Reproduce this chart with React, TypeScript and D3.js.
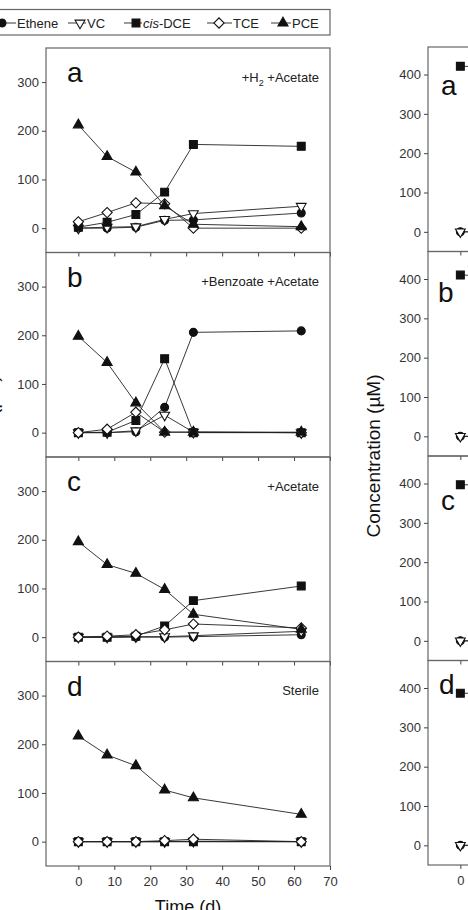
import { useEffect, useRef } from "react";
import * as d3 from "d3";

// Sampling days, shared by every treatment
const days = [0, 8, 16, 24, 32, 62];
const xTicks = [0, 10, 20, 30, 40, 50, 60, 70];
const yTicksLeft = [0, 100, 200, 300];
const yTicksRight = [0, 100, 200, 300, 400];

const compounds = ["Ethene", "VC", "cis-DCE", "TCE", "PCE"];
const panelTags = ["a", "b", "c", "d"];
const panelNotes = ["+H2 +Acetate", "+Benzoate +Acetate", "+Acetate", "Sterile"];

// (a) +H2 +Acetate
const etheneA = [0, 0, 2, 16, 17, 31];
const vcA = [0, 2, 3, 18, 30, 45];
const dceA = [2, 12, 28, 74, 172, 168];
const tceA = [13, 32, 52, 50, 0, 0];
const pceA = [212, 147, 115, 46, 8, 3];

// (b) +Benzoate +Acetate
const etheneB = [0, 0, 2, 52, 206, 209];
const vcB = [0, 0, 4, 36, 1, 0];
const dceB = [0, 1, 25, 152, 0, 0];
const tceB = [0, 7, 42, 1, 1, 0];
const pceB = [198, 144, 61, 1, 1, 1];

// (c) +Acetate
const etheneC = [0, 0, 0, 0, 1, 5];
const vcC = [0, 0, 1, 1, 3, 12];
const dceC = [0, 0, 2, 23, 75, 105];
const tceC = [0, 2, 5, 15, 27, 19];
const pceC = [196, 149, 131, 98, 47, 16];

// (d) Sterile
const etheneD = [0, 0, 0, 0, 0, 0];
const vcD = [0, 0, 0, 0, 1, 0];
const dceD = [0, 0, 0, 0, 0, 0];
const tceD = [0, 0, 0, 2, 5, 0];
const pceD = [217, 178, 156, 106, 90, 56];

// second set of microcosms (only its first samples fit in the frame)
const rightDays = [0, 8];
const rightCompounds = ["Ethene", "VC", "cis-DCE"];
const rightEthene = [0, 0];
const rightVc = [0, 0];
const rightDceA = [421, 420];
const rightDceB = [410, 409];
const rightDceC = [397, 396];
const rightDceD = [387, 386];

const FONT = "'Liberation Sans', Arial, Helvetica, sans-serif";

type Marker = { type: d3.SymbolType; size: number; fill: string; rotate: number };

const markers: Record<string, Marker> = {
  Ethene: { type: d3.symbolCircle, size: 50, fill: "#111", rotate: 0 },
  VC: { type: d3.symbolTriangle, size: 42, fill: "#fff", rotate: 180 },
  "cis-DCE": { type: d3.symbolSquare, size: 62, fill: "#111", rotate: 0 },
  TCE: { type: d3.symbolSquare, size: 52, fill: "#fff", rotate: 45 },
  PCE: { type: d3.symbolTriangle, size: 44, fill: "#111", rotate: 0 },
};

type FigureConfig = {
  left: number;
  top: number;
  yDomain: [number, number];
  yTicks: number[];
  names: string[];
  panels: number[][][];
  days: number[];
  tagDx: number[];
  tagDy: number[];
  notes: string[];
};

const PANEL_W = 284;
const PANEL_H = 204.5;

function drawMarker(g: any, name: string, cx: number, cy: number) {
  const m = markers[name];
  g.append("path")
    .attr("d", d3.symbol().type(m.type).size(m.size)())
    .attr("transform", `translate(${cx},${cy}) rotate(${m.rotate})`)
    .attr("fill", m.fill)
    .attr("stroke", "#111")
    .attr("stroke-width", 1.1);
}

function drawFigure(svg: any, cfg: FigureConfig) {
  const right = cfg.left + PANEL_W;
  const x = d3.scaleLinear().domain([-9, 70]).range([cfg.left, right]);

  cfg.panels.forEach((series, i) => {
    const top = cfg.top + i * PANEL_H;
    const bottom = top + PANEL_H;
    const y = d3.scaleLinear().domain(cfg.yDomain).range([bottom, top]);
    const g = svg.append("g");
    const last = i === cfg.panels.length - 1;

    // frame
    g.append("rect")
      .attr("x", cfg.left)
      .attr("y", top)
      .attr("width", PANEL_W)
      .attr("height", PANEL_H)
      .attr("fill", "none")
      .attr("stroke", "#666")
      .attr("stroke-width", 1.2);

    // y axis
    const yAxis = g
      .append("g")
      .attr("transform", `translate(${cfg.left},0)`)
      .call(d3.axisLeft(y).tickValues(cfg.yTicks).tickSize(4).tickPadding(3));
    yAxis.select(".domain").remove();

    // x axis, labelled only on the bottom panel
    const xAxis = g
      .append("g")
      .attr("transform", `translate(0,${bottom})`)
      .call(
        d3
          .axisBottom(x)
          .tickValues(xTicks)
          .tickSize(4)
          .tickPadding(7)
          .tickFormat((d: any) => (last ? String(d) : ""))
      );
    xAxis.select(".domain").remove();

    [yAxis, xAxis].forEach((ax) => {
      ax.attr("font-family", FONT).attr("font-size", 13);
      ax.selectAll("line").attr("stroke", "#444");
      ax.selectAll("text").attr("fill", "#333");
    });

    // lines first, then symbols on top
    series.forEach((values) => {
      const line = d3
        .line<number>()
        .x((_, j) => x(cfg.days[j]))
        .y((v) => y(v));
      g.append("path")
        .datum(values)
        .attr("fill", "none")
        .attr("stroke", "#222")
        .attr("stroke-width", 0.9)
        .attr("d", line);
    });
    series.forEach((values, k) => {
      values.forEach((v, j) => drawMarker(g, cfg.names[k], x(cfg.days[j]), y(v)));
    });

    // panel letter
    g.append("text")
      .attr("x", cfg.left + cfg.tagDx[i])
      .attr("y", top + cfg.tagDy[i])
      .attr("font-family", FONT)
      .attr("font-size", 28)
      .attr("fill", "#111")
      .text(panelTags[i]);

    // treatment note, digits as subscripts
    const note = cfg.notes[i];
    if (note) {
      const t = g
        .append("text")
        .attr("x", right - 11)
        .attr("y", top + 33.5)
        .attr("text-anchor", "end")
        .attr("font-family", FONT)
        .attr("font-size", 13)
        .attr("fill", "#222");
      let shift = 0;
      note.split(/(\d)/).forEach((part) => {
        if (!part) return;
        const sub = /\d/.test(part);
        t.append("tspan")
          .attr("dy", sub ? 4 - shift : -shift)
          .attr("font-size", sub ? 9 : 13)
          .text(part);
        shift = sub ? 4 : 0;
      });
    }
  });

  const figBottom = cfg.top + cfg.panels.length * PANEL_H;

  svg.append("text")
    .attr("x", (cfg.left + right) / 2)
    .attr("y", figBottom + 47)
    .attr("text-anchor", "middle")
    .attr("font-family", FONT)
    .attr("font-size", 18)
    .attr("fill", "#111")
    .text("Time (d)");

  svg.append("text")
    .attr("transform", `translate(${cfg.left - 48},${(cfg.top + figBottom) / 2}) rotate(-90)`)
    .attr("text-anchor", "middle")
    .attr("font-family", FONT)
    .attr("font-size", 19)
    .attr("fill", "#111")
    .text("Concentration (\u00b5M)");
}

export default function App() {
  const svgRef = useRef<SVGSVGElement>(null);

  useEffect(() => {
    const svg = d3.select(svgRef.current);
    svg.selectAll("*").remove();

    // Legend
    const legend = svg.append("g");
    legend
      .append("rect")
      .attr("x", -20)
      .attr("y", 9.5)
      .attr("width", 350)
      .attr("height", 25.5)
      .attr("fill", "#fff")
      .attr("stroke", "#666")
      .attr("stroke-width", 1.2);
    const markerX = [2, 80, 136, 219, 283];
    const textX = [17, 87, 143, 233, 292];
    compounds.forEach((name, i) => {
      legend
        .append("line")
        .attr("x1", markerX[i] - 12)
        .attr("x2", textX[i] - 1)
        .attr("y1", 23)
        .attr("y2", 23)
        .attr("stroke", "#222")
        .attr("stroke-width", 0.9);
      drawMarker(legend, name, markerX[i], 23);
      const t = legend
        .append("text")
        .attr("x", textX[i])
        .attr("y", 27.5)
        .attr("font-family", FONT)
        .attr("font-size", 13)
        .attr("fill", "#222");
      if (name === "cis-DCE") {
        t.append("tspan").attr("font-style", "italic").text("cis");
        t.append("tspan").text("-DCE");
      } else {
        t.text(name);
      }
    });

    drawFigure(svg, {
      left: 46,
      top: 48,
      yDomain: [-50, 370],
      yTicks: yTicksLeft,
      names: compounds,
      panels: [
        [etheneA, vcA, dceA, tceA, pceA],
        [etheneB, vcB, dceB, tceB, pceB],
        [etheneC, vcC, dceC, tceC, pceC],
        [etheneD, vcD, dceD, tceD, pceD],
      ],
      days,
      tagDx: [21, 21, 21, 21],
      tagDy: [34, 34, 34, 34],
      notes: panelNotes,
    });

    drawFigure(svg, {
      left: 428,
      top: 47,
      yDomain: [-50, 470],
      yTicks: yTicksRight,
      names: rightCompounds,
      panels: [
        [rightEthene, rightVc, rightDceA],
        [rightEthene, rightVc, rightDceB],
        [rightEthene, rightVc, rightDceC],
        [rightEthene, rightVc, rightDceD],
      ],
      days: rightDays,
      tagDx: [13, 10, 13, 11],
      tagDy: [48, 50.5, 54, 33.5],
      notes: ["", "", "", ""],
    });
  }, []);

  return (
    <svg
      ref={svgRef}
      width={468}
      height={910}
      style={{ position: "absolute", left: 0, top: 0, display: "block", background: "#fff" }}
    />
  );
}
